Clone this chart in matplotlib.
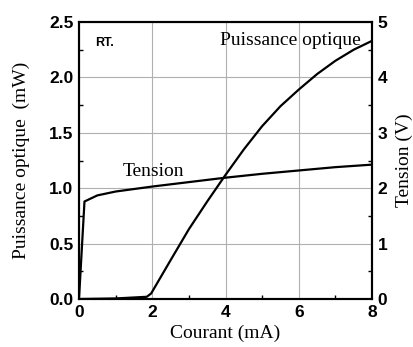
import numpy as np
import matplotlib
matplotlib.use('Agg')
import matplotlib.pyplot as plt
from matplotlib.ticker import MultipleLocator, FormatStrFormatter

# courbe puissance optique (mW) en fonction du courant (mA)
courant_p = [0.0, 1.0, 1.85, 1.97, 2.5, 3.0, 3.5, 4.0, 4.5, 5.0, 5.5, 6.0, 6.5, 7.0, 7.5, 8.0]
puissance = [0.0, 0.005, 0.02, 0.05, 0.35, 0.63, 0.88, 1.12, 1.35, 1.56, 1.74, 1.89, 2.03, 2.15, 2.25, 2.33]

# courbe tension (V)
courant_v = [0.0, 0.15, 0.5, 1.0, 2.0, 3.0, 4.0, 5.0, 6.0, 7.0, 8.1]
tension = [0.0, 1.76, 1.87, 1.94, 2.03, 2.11, 2.19, 2.26, 2.32, 2.38, 2.43]

SERIF = 'Liberation Serif'
SANS = 'Liberation Sans'

fig = plt.figure(figsize=(4.14, 3.47), dpi=100)
ax = fig.add_axes([0.1908, 0.1383, 0.7078, 0.7983])
ax2 = ax.twinx()

ax.plot(courant_p, puissance, color='black', lw=1.6)
ax2.plot(courant_v, tension, color='black', lw=1.6)

ax.set_xlim(0, 8)
ax.set_ylim(0, 2.5)
ax2.set_ylim(0, 5)

ax.xaxis.set_major_locator(MultipleLocator(2))
ax.xaxis.set_minor_locator(MultipleLocator(1))
ax.yaxis.set_major_locator(MultipleLocator(0.5))
ax.yaxis.set_minor_locator(MultipleLocator(0.25))
ax.yaxis.set_major_formatter(FormatStrFormatter('%.1f'))
ax2.yaxis.set_major_locator(MultipleLocator(1))
ax2.yaxis.set_minor_locator(MultipleLocator(0.5))

ax.grid(True, which='major', color='#b0b0b0', lw=0.8)
ax.set_axisbelow(True)

for a in (ax, ax2):
    for s in a.spines.values():
        s.set_linewidth(1.5)
    a.tick_params(which='both', direction='in', width=1.0)
    a.tick_params(which='major', length=0, pad=4)
    a.tick_params(which='minor', length=3)

for lab in ax.get_xticklabels() + ax.get_yticklabels() + ax2.get_yticklabels():
    lab.set_fontfamily(SANS)
    lab.set_fontweight('bold')
    lab.set_fontsize(12.5)

ax.set_xlabel('Courant (mA)', fontfamily=SERIF, fontsize=14, labelpad=4)
ax.set_ylabel('Puissance optique  (mW)', fontfamily=SERIF, fontsize=14, labelpad=14)
ax2.set_ylabel('Tension (V)', fontfamily=SERIF, fontsize=14, labelpad=6)

ax.text(0.45, 2.28, 'RT.', fontfamily=SANS, fontweight='bold', fontsize=9)
ax.text(1.2, 1.11, 'Tension', fontfamily=SERIF, fontsize=14)
ax.text(3.85, 2.29, 'Puissance optique', fontfamily=SERIF, fontsize=14)

fig.savefig('out.png', dpi=100)
